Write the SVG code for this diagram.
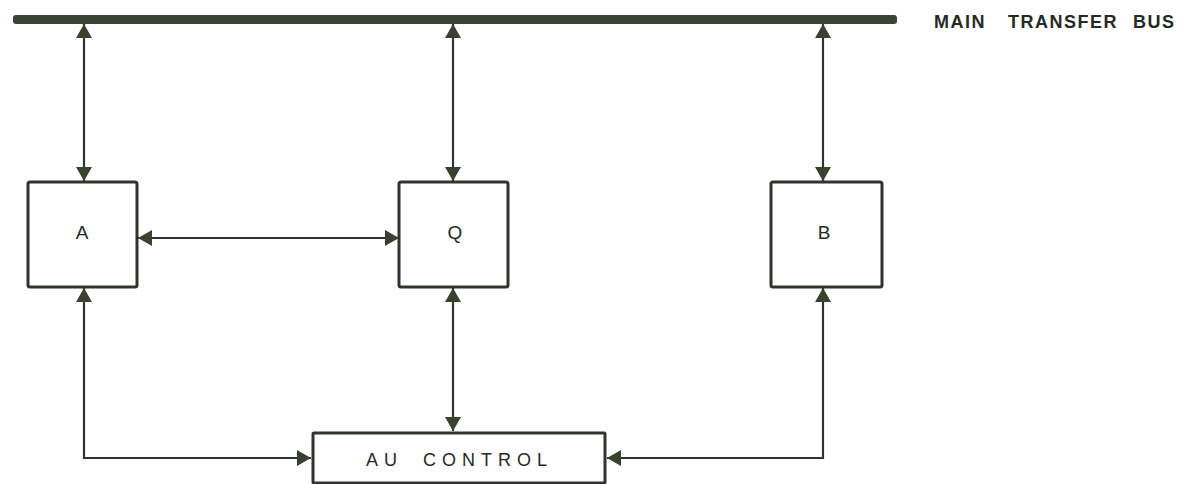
<svg xmlns="http://www.w3.org/2000/svg" width="1183" height="484" viewBox="0 0 1183 484">
<style>
.box{fill:#fff;stroke:#2f352c;stroke-width:3}
.ln{fill:none;stroke:#2f352c;stroke-width:2.2}
.lbl{font-family:"Liberation Sans",Arial,sans-serif;fill:#262a24;font-size:18px}
.nd{font-family:"Liberation Sans",Arial,sans-serif;fill:#262a24;font-size:19px;text-anchor:middle}
</style>
<defs>
<marker id="ah" viewBox="0 0 14 16" refX="14" refY="8" markerWidth="14" markerHeight="16" markerUnits="userSpaceOnUse" orient="auto-start-reverse">
<path d="M0,0 L14,8 L0,16 z" fill="#38422f"/>
</marker>
</defs>
<rect width="1183" height="484" fill="#fff"/>
<g id="bus">
<rect x="13" y="15" width="884" height="9" rx="3" fill="#3b4536"/>
<text class="lbl" y="28" font-weight="bold" letter-spacing="1.5"><tspan x="934">MAIN</tspan><tspan x="1008">TRANSFER</tspan><tspan x="1133">BUS</tspan></text>
</g>
<g id="connectors">
<line class="ln" x1="84" y1="24" x2="84" y2="181" marker-start="url(#ah)" marker-end="url(#ah)"/>
<line class="ln" x1="453" y1="24" x2="453" y2="181" marker-start="url(#ah)" marker-end="url(#ah)"/>
<line class="ln" x1="823" y1="24" x2="823" y2="181" marker-start="url(#ah)" marker-end="url(#ah)"/>
<line class="ln" x1="138" y1="238" x2="399" y2="238" marker-start="url(#ah)" marker-end="url(#ah)"/>
<line class="ln" x1="453" y1="288" x2="453" y2="431" marker-start="url(#ah)" marker-end="url(#ah)"/>
<path class="ln" d="M84,288 V458 H311" marker-start="url(#ah)" marker-end="url(#ah)"/>
<path class="ln" d="M823,288 V458 H607" marker-start="url(#ah)" marker-end="url(#ah)"/>
</g>
<g id="nodeA">
<rect class="box" x="28" y="182" width="109" height="105" rx="2"/>
<text class="nd" x="82" y="239">A</text>
</g>
<g id="nodeQ">
<rect class="box" x="399" y="182" width="109" height="105" rx="2"/>
<text class="nd" x="455" y="239">Q</text>
</g>
<g id="nodeB">
<rect class="box" x="771" y="182" width="111" height="105" rx="2"/>
<text class="nd" x="824" y="239">B</text>
</g>
<g id="nodeAU">
<rect class="box" x="313" y="433" width="292" height="50" rx="1"/>
<text class="lbl" y="466" letter-spacing="6"><tspan x="366">AU</tspan><tspan x="423">CONTROL</tspan></text>
</g>
</svg>
